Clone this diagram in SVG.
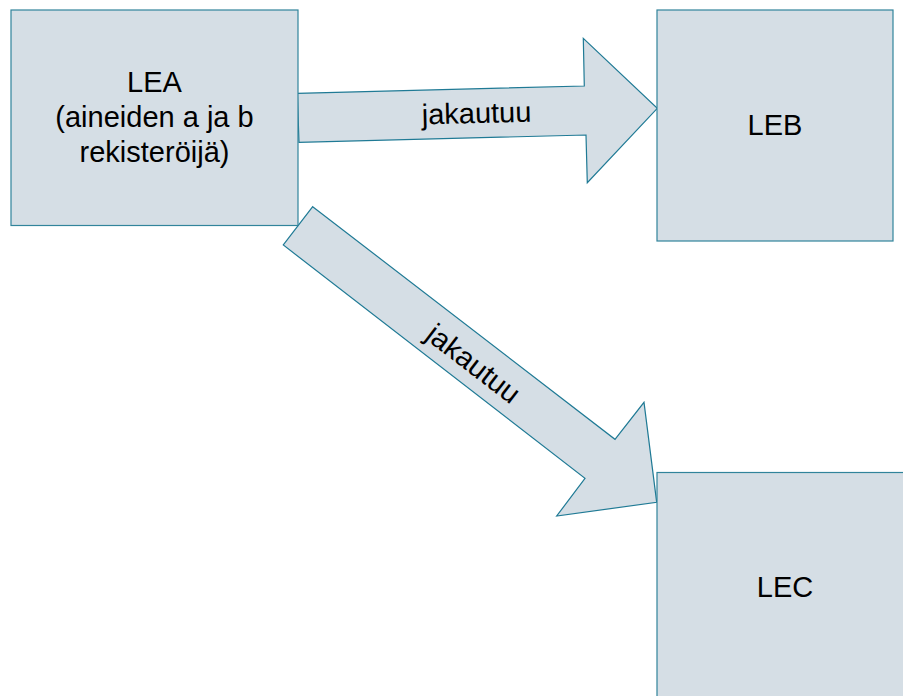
<svg xmlns="http://www.w3.org/2000/svg" width="903" height="696" viewBox="0 0 903 696">
<style>
.box{fill:#D5DEE5;stroke:#31849B;stroke-width:1.2}
.arr{fill:#D5DEE5;stroke:#1F7A95;stroke-width:1.2;stroke-linejoin:miter}
.t{font-family:"Liberation Sans",Arial,sans-serif;font-size:29px;fill:#000;text-anchor:middle}
</style>
<rect width="903" height="696" fill="#fff"/>
<g id="connectors">
<g id="arrow-lea-leb">
<polygon class="arr" points="297.3,93.3 584.3,86 583.3,38.3 657.3,108.3 587.3,182.7 586,135 299,142.3"/>
<text class="t" transform="translate(476.5,113) rotate(-1.46)" dy="10">jakautuu</text>
</g>
<g id="arrow-lea-lec">
<polygon class="arr" points="312.7,206.7 615,439.3 644,402.3 656.7,502.3 556.7,516 585,478.3 283.3,245"/>
<text class="t" transform="translate(473.5,363.5) rotate(37.6)" dy="10">jakautuu</text>
</g>
</g>
<g id="LEA">
<rect class="box" x="11" y="10" width="287" height="215.5"/>
<text class="t" x="154.5" y="92">LEA</text>
<text class="t" x="154.5" y="127">(aineiden a ja b</text>
<text class="t" x="154.5" y="161.5">rekisteröijä)</text>
</g>
<g id="LEB">
<rect class="box" x="657" y="10" width="236" height="231"/>
<text class="t" x="775" y="135">LEB</text>
</g>
<g id="LEC">
<rect class="box" x="657" y="472.5" width="260" height="240"/>
<text class="t" x="785" y="597">LEC</text>
</g>
</svg>
